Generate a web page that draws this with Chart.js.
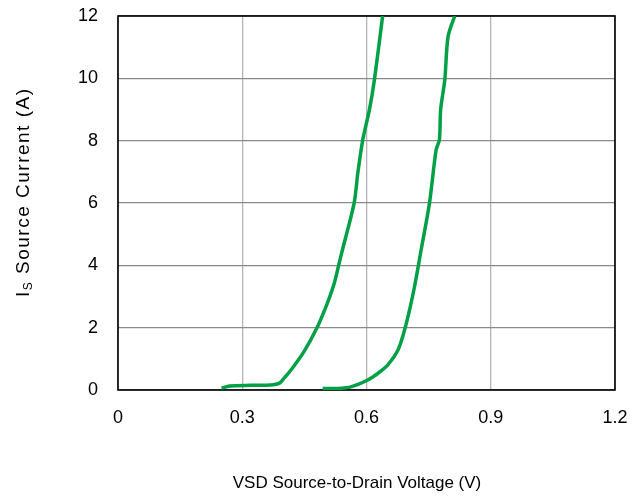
<!DOCTYPE html>
<html>
<head>
<meta charset="utf-8">
<script src="https://cdn.jsdelivr.net/npm/chart.js@4/dist/chart.umd.min.js"></script>
<style>
  html, body { margin: 0; padding: 0; background: #fff; }
  #wrap { width: 638px; height: 496px; }
</style>
</head>
<body>
<div id="wrap"><canvas id="chart" width="638" height="496"></canvas></div>
<script>
// curve 1 (left)
const vsd1 = [0.25, 0.27, 0.32, 0.368, 0.39, 0.401, 0.421, 0.449, 0.478, 0.502, 0.522, 0.534, 0.542, 0.57, 0.579, 0.591, 0.607, 0.619, 0.639];
const is1 = [0.06, 0.13, 0.15, 0.16, 0.22, 0.38, 0.70, 1.23, 1.93, 2.67, 3.42, 4.07, 4.5, 5.99, 6.96, 8.03, 8.99, 9.95, 12.0];
// curve 2 (right)
const vsd2 = [0.494, 0.53, 0.562, 0.603, 0.627, 0.651, 0.676, 0.692, 0.704, 0.716, 0.732, 0.752, 0.768, 0.776, 0.779, 0.789, 0.797, 0.813];
const is2 = [0.05, 0.05, 0.1, 0.32, 0.53, 0.8, 1.28, 1.93, 2.57, 3.32, 4.5, 5.99, 7.7, 8.03, 8.99, 9.95, 11.34, 12.0];

const xTicks = [0, 0.3, 0.6, 0.9, 1.2];
const yTicks = [0, 2, 4, 6, 8, 10, 12];

const green = '#00a046';
const fam = '"Liberation Sans", Arial, sans-serif';
const toPts = (xs, ys) => xs.map((x, i) => ({ x: x, y: ys[i] }));

// frame + axis titles (the y title needs a subscript S)
const frameAndTitles = {
  id: 'frameAndTitles',
  beforeDatasetsDraw(chart) {
    const { ctx, chartArea: a } = chart;
    ctx.save();
    ctx.strokeStyle = '#000';
    ctx.lineWidth = 1.6;
    ctx.strokeRect(a.left, a.top, a.right - a.left, a.bottom - a.top);
    ctx.restore();
  },
  afterDraw(chart) {
    const { ctx } = chart;
    ctx.save();
    ctx.fillStyle = '#000';
    ctx.font = '17px ' + fam;
    ctx.textAlign = 'center';
    ctx.textBaseline = 'alphabetic';
    ctx.fillText('VSD Source-to-Drain Voltage (V)', 357, 488);

    ctx.translate(29, 297);
    ctx.rotate(-Math.PI / 2);
    ctx.textAlign = 'left';
    ctx.letterSpacing = '1.5px';
    let x = 0;
    ctx.font = '19px ' + fam;
    ctx.fillText('I', x, 0);
    x += ctx.measureText('I').width;
    ctx.font = '12px ' + fam;
    ctx.fillText('S', x, 3);
    x += ctx.measureText('S').width;
    ctx.font = '19px ' + fam;
    ctx.fillText(' Source Current (A)', x, 0);
    ctx.restore();
  }
};

new Chart(document.getElementById('chart'), {
  type: 'scatter',
  data: {
    datasets: [
      { data: toPts(vsd1, is1), showLine: true, borderColor: green, borderWidth: 3.5, pointRadius: 0, tension: 0.3, fill: false },
      { data: toPts(vsd2, is2), showLine: true, borderColor: green, borderWidth: 3.5, pointRadius: 0, tension: 0.3, fill: false }
    ]
  },
  options: {
    responsive: false,
    animation: false,
    events: [],
    layout: { padding: { top: 16, right: 23, left: 0, bottom: 0 } },
    plugins: { legend: { display: false }, tooltip: { enabled: false } },
    scales: {
      x: {
        type: 'linear',
        min: 0, max: 1.2,
        afterBuildTicks: (s) => { s.ticks = xTicks.map(v => ({ value: v })); },
        afterFit: (s) => { s.height = 106; s.paddingLeft = 0; s.paddingRight = 0; },
        ticks: { color: '#000', padding: 17, font: { size: 18, family: fam }, callback: (v) => String(v) },
        grid: { color: '#b4b4b4', lineWidth: 1.3, drawTicks: false },
        border: { display: false }
      },
      y: {
        type: 'linear',
        min: 0, max: 12,
        afterBuildTicks: (s) => { s.ticks = yTicks.map(v => ({ value: v })); },
        afterFit: (s) => { s.width = 118; s.paddingTop = 0; s.paddingBottom = 0; },
        ticks: { color: '#000', padding: 20, font: { size: 18, family: fam } },
        grid: { color: '#8a8a8a', lineWidth: 1.3, drawTicks: false },
        border: { display: false }
      }
    }
  },
  plugins: [frameAndTitles]
});
</script>
</body>
</html>
